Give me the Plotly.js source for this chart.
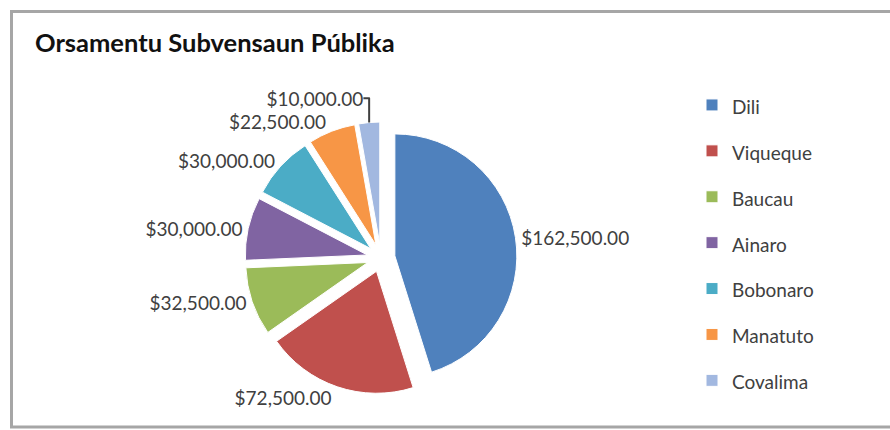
<!DOCTYPE html>
<html>
<head>
<meta charset="utf-8">
<script src="https://cdn.plot.ly/plotly-3.0.1.min.js"></script>
<style>html,body{margin:0;padding:0;background:#fff;}#chart{width:890px;height:430px;}</style>
</head>
<body>
<div id="chart"></div>
<script>
const districts = ["Dili", "Viqueque", "Baucau", "Ainaro", "Bobonaro", "Manatuto", "Covalima"];
const budget = [162500, 72500, 32500, 30000, 30000, 22500, 10000];
const sliceColors = ["#4F81BD", "#C0504D", "#9BBB59", "#8064A2", "#4BACC6", "#F79646", "#A2B8E0"];
const chartTitle = "Orsamentu Subvensaun Públika";

const legendLabels = districts.map(d => '<span style="font-size:19px;baseline-shift:4px">' + d + '</span>');

const trace = {
  type: 'pie',
  labels: legendLabels,
  values: budget,
  sort: false,
  direction: 'clockwise',
  rotation: 0,
  pull: 0.115,
  marker: {colors: sliceColors, line: {color: '#ffffff', width: 1}},
  texttemplate: '$%{value:,.2f}',
  textposition: 'outside',
  textfont: {family: 'Lato, sans-serif', size: 19, color: '#404040'},
  hoverinfo: 'label+value',
  domain: {x: [245/890, 517/890], y: [36/430, 308/430]},
  automargin: false
};

const layout = {
  width: 890, height: 430,
  margin: {l: 0, r: 0, t: 0, b: 0},
  paper_bgcolor: '#ffffff',
  title: {
    text: chartTitle,
    font: {family: 'Lato, sans-serif', size: 25.5, color: '#111111', weight: 'bold'},
    x: 35/890, xanchor: 'left', xref: 'paper',
    y: 1 - 43/430, yanchor: 'middle', yref: 'paper'
  },
  showlegend: true,
  legend: {
    x: 692/890, xanchor: 'left',
    y: 1 - 77/430, yanchor: 'top',
    font: {family: 'Lato, sans-serif', size: 33, color: '#404040'},
    bgcolor: 'rgba(0,0,0,0)',
    itemclick: false
  },
  shapes: [{
    type: 'rect', xref: 'paper', yref: 'paper',
    x0: 11.5/890, x1: 1.01, y0: 1 - 427/430, y1: 1 - 11.5/430,
    line: {color: '#a6a6a6', width: 3}, fillcolor: 'rgba(0,0,0,0)', layer: 'below'
  }]
};

Plotly.newPlot('chart', [trace], layout, {displayModeBar: false, staticPlot: true});
</script>
</body>
</html>
